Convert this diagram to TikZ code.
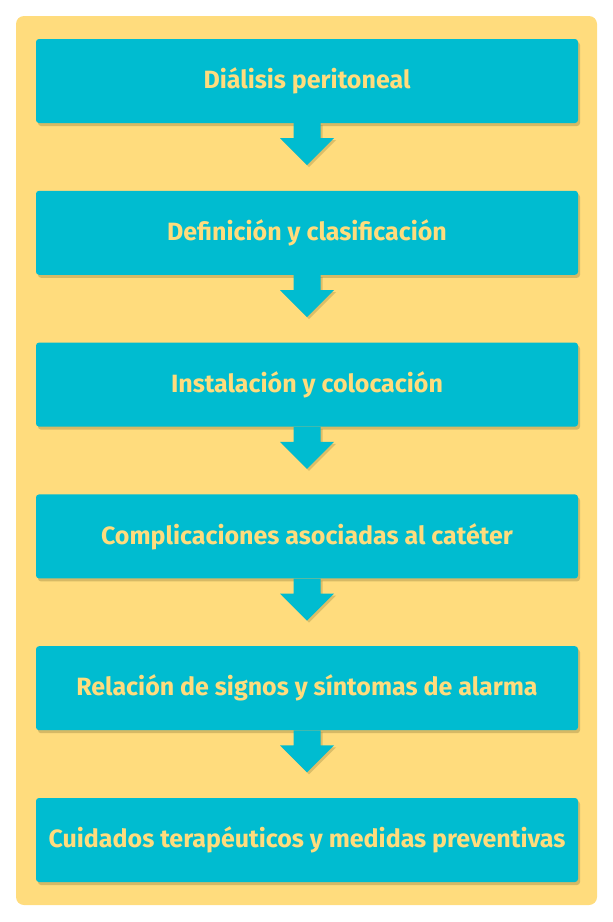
\documentclass[tikz,border=0pt]{standalone}
\usepackage{fontspec}
\setmainfont{Fira Sans}
\usetikzlibrary{positioning, shadows, calc}
\definecolor{fondo}{HTML}{FFDC7D}
\definecolor{caja}{HTML}{00BCD0}
\definecolor{letra}{HTML}{FFDC7D}
\definecolor{sombra}{HTML}{8A7A3A}

% block arrow hanging from a box
\newcommand{\flecha}[1]{%
  \fill[caja, drop shadow={shadow xshift=2pt, shadow yshift=-2pt, opacity=0.3, fill=sombra}]
    ($(#1.south)+(-13.5pt,0)$) -- ++(0,-15pt) -- ++(-13.5pt,0)
    -- ($(#1.south)+(0,-42pt)$) -- ($(#1.south)+(27pt,-15pt)$)
    -- ++(-13.5pt,0) -- ($(#1.south)+(13.5pt,0)$) -- cycle;
}

\tikzset{
  paso/.style={fill=caja, rounded corners=3pt, minimum width=542pt, minimum height=84pt,
    inner sep=0pt, text=letra, font=\bfseries\fontsize{25}{30}\selectfont,
    drop shadow={shadow xshift=2pt, shadow yshift=-3pt, opacity=0.35, fill=sombra}},
  node distance=67.4pt
}

\begin{document}
\begin{tikzpicture}
    \useasboundingbox (0,0) rectangle (613pt,-922pt);
    \fill[fondo, rounded corners=8pt] (16pt,-16pt) rectangle (597pt,-905pt);

    \node[paso] (dialisis) at (307pt,-81pt) {Diálisis peritoneal};
    \node[paso, below=of dialisis] (definicion) {Definición y clasificación};
    \node[paso, below=of definicion] (instalacion) {Instalación y colocación};
    \node[paso, below=of instalacion] (complicaciones) {Complicaciones asociadas al catéter};
    \node[paso, below=of complicaciones] (alarma) {Relación de signos y síntomas de alarma};
    \node[paso, below=of alarma] (cuidados) {Cuidados terapéuticos y medidas preventivas};

    \flecha{dialisis}
    \flecha{definicion}
    \flecha{instalacion}
    \flecha{complicaciones}
    \flecha{alarma}
\end{tikzpicture}
\end{document}
